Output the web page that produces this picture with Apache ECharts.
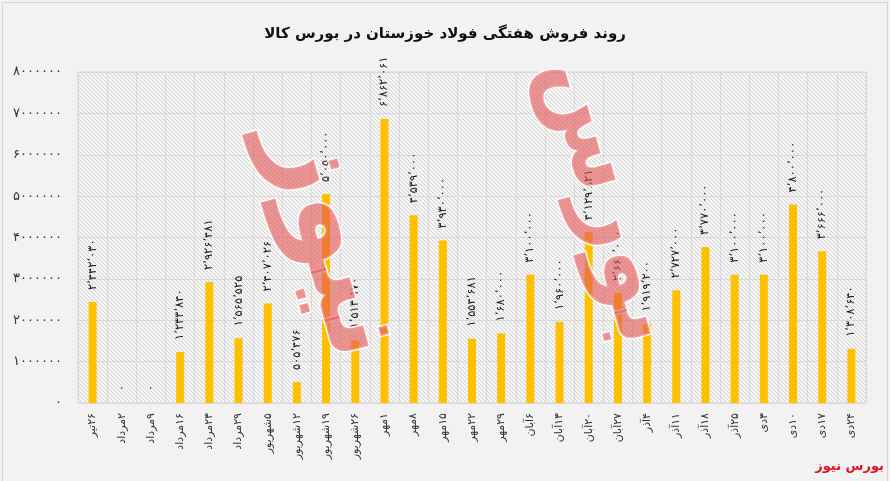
<!DOCTYPE html>
<html><head><meta charset="utf-8">
<script src="https://cdn.jsdelivr.net/npm/echarts@6/dist/echarts.min.js"></script>
<style>html,body{margin:0;padding:0;background:#f2f2f2}#c{width:890px;height:481px}</style>
</head><body><div id="c"></div>
<script>
const titleText = 'روند فروش هفتگی فولاد خوزستان در بورس کالا';
const categories = ['۲۶تیر','۲مرداد','۹مرداد','۱۶مرداد','۲۳مرداد','۲۹مرداد','۵شهریور','۱۲شهریور','۱۹شهریور','۲۶شهریور','۱مهر','۸مهر','۱۵مهر','۲۲مهر','۲۹مهر','۶آبان','۱۳آبان','۲۰آبان','۲۷آبان','۴آذر','۱۱آذر','۱۸آذر','۲۵آذر','۳دی','۱۰دی','۱۷دی','۲۴دی'];
const sales = [2442030,0,0,1233840,2926481,1565525,2407026,505476,5050000,1513170,6862061,4539000,3930000,1554681,1680000,3100000,1960000,4129821,2660000,1919200,2727000,3770000,3100000,3100000,4800000,3666000,1308640];
const yMin = 0, yMax = 8000000, yStep = 1000000;
const sourceText = 'بورس نیوز';
const watermarkWords = ['بورس', 'نیوز'];

const FA = '۰۱۲۳۴۵۶۷۸۹';
const fa = s => String(s).replace(/\d/g, d => FA[d]);
const faNum = n => fa(Math.round(n).toLocaleString('en-US').replace(/,/g, '٬'));
const RLM = '\u200F';

const pc = document.createElement('canvas'); pc.width = 4; pc.height = 4;
const g = pc.getContext('2d');
g.fillStyle = '#f5f5f5'; g.fillRect(0, 0, 4, 4);
g.strokeStyle = '#d2d2d2'; g.lineWidth = 1;
g.beginPath(); g.moveTo(-1, -1); g.lineTo(5, 5); g.moveTo(-1, 3); g.lineTo(1, 5); g.moveTo(3, -1); g.lineTo(5, 1); g.stroke();

const FONT = '"DejaVu Sans", sans-serif';
const chart = echarts.init(document.getElementById('c'));
chart.setOption({
  backgroundColor: '#f2f2f2',
  animation: false,
  title: {
    text: titleText, left: 'center', top: 22,
    textStyle: { fontFamily: FONT, fontSize: 15, fontWeight: 'bold', color: '#111' }
  },
  grid: {
    left: 78, right: 24, top: 72, bottom: 78, show: true,
    backgroundColor: { image: pc, repeat: 'repeat' },
    borderColor: '#d9d9d9', borderWidth: 1
  },
  xAxis: {
    type: 'category', data: categories,
    axisTick: { show: false }, axisLine: { show: false },
    splitLine: { show: true, interval: 0, lineStyle: { color: '#d9d9d9' } },
    axisLabel: { rotate: 90, interval: 0, margin: 10, formatter: v => RLM + v,
      fontFamily: FONT, fontSize: 11, color: '#333' }
  },
  yAxis: {
    type: 'value', min: yMin, max: yMax, interval: yStep,
    axisLine: { show: false }, axisTick: { show: false },
    splitLine: { lineStyle: { color: '#d9d9d9' } },
    axisLabel: { formatter: v => fa(v), margin: 16, fontFamily: FONT, fontSize: 13, color: '#333' }
  },
  series: [{
    type: 'bar', data: sales, barWidth: 8,
    itemStyle: { color: '#FFC000' },
    label: {
      show: true, position: 'top', rotate: 90, align: 'left', verticalAlign: 'middle',
      distance: 12, formatter: p => faNum(p.value),
      fontFamily: FONT, fontSize: 11.5, color: '#222'
    }
  }],
  graphic: [
    { type: 'text', x: 610, y: 200, rotation: -1.3, z: 100, silent: true,
      style: { text: watermarkWords[0], font: 'bold 100px "DejaVu Sans"', fill: 'rgba(228,80,80,0.58)',
        stroke: 'rgba(255,255,255,0.85)', lineWidth: 3, textAlign: 'center', textVerticalAlign: 'middle' } },
    { type: 'text', x: 335, y: 240, rotation: -1.3, z: 100, silent: true,
      style: { text: watermarkWords[1], font: 'bold 122px "DejaVu Sans"', fill: 'rgba(228,80,80,0.58)',
        stroke: 'rgba(255,255,255,0.85)', lineWidth: 3, textAlign: 'center', textVerticalAlign: 'middle' } },
    { type: 'text', right: 6, bottom: 8, z: 100,
      style: { text: sourceText, font: 'bold 13px "DejaVu Sans"', fill: '#e0141e' } },
    { type: 'rect', left: 0, top: 0, z: -1, silent: true,
      shape: { width: 885, height: 479 }, style: { fill: 'none', stroke: '#d4d4d4', lineWidth: 1 } }
  ]
});
</script>
</body></html>
